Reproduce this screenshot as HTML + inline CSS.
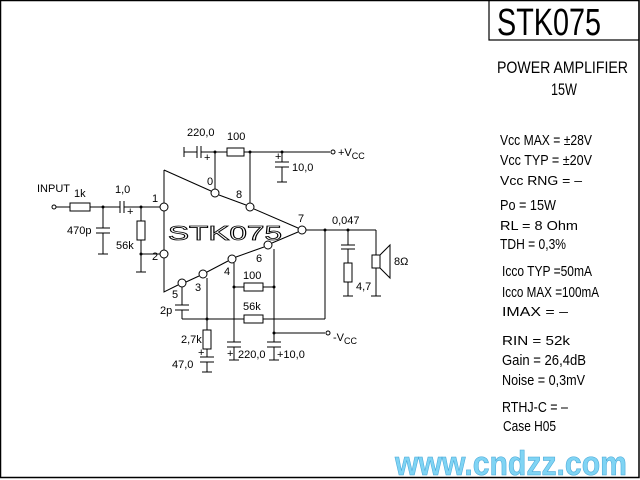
<!DOCTYPE html>
<html><head><style>
html,body{margin:0;padding:0;background:#fff;}
svg{display:block}
text{font-family:"Liberation Sans",sans-serif;fill:#000}
</style></head><body>
<svg width="640" height="480" viewBox="0 0 640 480" xmlns="http://www.w3.org/2000/svg">
<rect x="0.5" y="0.5" width="638.5" height="477" fill="none" stroke="#000" stroke-width="1.5"/>
<rect x="489" y="0" width="150" height="40" fill="none" stroke="#000" stroke-width="1.2"/>
<text x="497" y="35" font-size="38" textLength="104" lengthAdjust="spacingAndGlyphs">STK075</text>
<text x="497" y="73" font-size="17" textLength="131" lengthAdjust="spacingAndGlyphs">POWER AMPLIFIER</text>
<text x="551" y="95" font-size="17" textLength="26" lengthAdjust="spacingAndGlyphs">15W</text>
<g font-size="15">
<text x="500" y="145" textLength="92" lengthAdjust="spacingAndGlyphs">Vcc MAX = ±28V</text>
<text x="500" y="165" textLength="92" lengthAdjust="spacingAndGlyphs">Vcc TYP  = ±20V</text>
<text x="500" y="185" font-size="13" textLength="82" lengthAdjust="spacingAndGlyphs">Vcc RNG =   –</text>
<text x="500" y="210" textLength="56" lengthAdjust="spacingAndGlyphs">Po  = 15W</text>
<text x="500" y="230" font-size="13" textLength="78" lengthAdjust="spacingAndGlyphs">RL  = 8 Ohm</text>
<text x="500" y="249" textLength="66" lengthAdjust="spacingAndGlyphs">TDH = 0,3%</text>
<text x="502" y="276" textLength="90" lengthAdjust="spacingAndGlyphs">Icco TYP =50mA</text>
<text x="502" y="297" textLength="97" lengthAdjust="spacingAndGlyphs">Icco MAX =100mA</text>
<text x="502" y="316" font-size="13" textLength="66" lengthAdjust="spacingAndGlyphs">IMAX  =    –</text>
<text x="502" y="345" font-size="13" textLength="68" lengthAdjust="spacingAndGlyphs">RIN  = 52k</text>
<text x="502" y="365" textLength="84" lengthAdjust="spacingAndGlyphs">Gain  = 26,4dB</text>
<text x="502" y="385" textLength="83" lengthAdjust="spacingAndGlyphs">Noise = 0,3mV</text>
<text x="502" y="412" textLength="66" lengthAdjust="spacingAndGlyphs">RTHJ-C = –</text>
<text x="503" y="431" textLength="53" lengthAdjust="spacingAndGlyphs">Case H05</text>
</g>
<text x="395" y="475" font-size="34" font-weight="bold" style="fill:#7fd4f4;stroke:#4aa8d8;stroke-width:0.6" textLength="232" lengthAdjust="spacingAndGlyphs">www.cndzz.com</text>

<g stroke="#000" stroke-width="1" fill="none">
<polyline points="164,170 164,203"/><polyline points="164,211 164,250"/><polyline points="164,258 164,292 178,285"/>
<line x1="164" y1="170" x2="211" y2="191"/><line x1="219" y1="195" x2="246" y2="205"/><line x1="254" y1="209" x2="298" y2="228"/>
<line x1="298" y1="232" x2="272" y2="243"/><line x1="264" y1="247" x2="236" y2="257"/><line x1="228" y1="261" x2="207" y2="272"/><line x1="199" y1="276" x2="186" y2="282"/>
<g fill="#fff">
<circle cx="164" cy="207" r="4"/><circle cx="164" cy="254" r="4"/><circle cx="215" cy="193" r="4"/><circle cx="250" cy="207" r="4"/>
<circle cx="302" cy="230" r="4"/><circle cx="268" cy="245" r="4"/><circle cx="232" cy="259" r="4"/><circle cx="203" cy="274" r="4"/><circle cx="182" cy="283" r="4"/>
</g>
<line x1="184" y1="147" x2="184" y2="157"/><line x1="184" y1="152" x2="197" y2="152"/>
<line x1="197" y1="146" x2="197" y2="158"/><line x1="201" y1="146" x2="201" y2="158"/>
<line x1="201" y1="152" x2="227" y2="152"/><rect x="227" y="148" width="17" height="8"/>
<line x1="244" y1="152" x2="330" y2="152"/><circle cx="333" cy="152" r="2"/>
<line x1="215" y1="152" x2="215" y2="189"/><line x1="250" y1="152" x2="250" y2="203"/>
<line x1="282" y1="152" x2="282" y2="162"/><line x1="275" y1="162" x2="289" y2="162"/><line x1="275" y1="167" x2="289" y2="167"/><line x1="282" y1="167" x2="282" y2="182"/><line x1="277" y1="182" x2="287" y2="182"/>
<circle cx="54" cy="207" r="2"/><line x1="56" y1="207" x2="70" y2="207"/><rect x="70" y="203" width="20" height="8"/>
<line x1="90" y1="207" x2="120" y2="207"/><line x1="120" y1="201" x2="120" y2="213"/><line x1="124" y1="201" x2="124" y2="213"/>
<line x1="124" y1="207" x2="160" y2="207"/>
<line x1="103" y1="207" x2="103" y2="228"/><line x1="96" y1="228" x2="110" y2="228"/><line x1="96" y1="233" x2="110" y2="233"/><line x1="103" y1="233" x2="103" y2="254"/><line x1="98" y1="254" x2="108" y2="254"/>
<line x1="141" y1="207" x2="141" y2="221"/><rect x="137" y="221" width="8" height="19"/><line x1="141" y1="240" x2="141" y2="272"/><line x1="136" y1="272" x2="146" y2="272"/>
<line x1="141" y1="254" x2="160" y2="254"/>
<line x1="306" y1="230" x2="376" y2="230"/>
<line x1="325" y1="230" x2="325" y2="319"/>
<line x1="348" y1="230" x2="348" y2="245"/><line x1="341" y1="245" x2="355" y2="245"/><line x1="341" y1="249" x2="355" y2="249"/><line x1="348" y1="249" x2="348" y2="263"/><rect x="344" y="263" width="8" height="19"/><line x1="348" y1="282" x2="348" y2="296"/><line x1="343" y1="296" x2="353" y2="296"/>
<line x1="376" y1="230" x2="376" y2="255"/><rect x="372" y="255" width="8" height="13"/><polyline points="380,255 390,245 390,278 380,268"/><line x1="376" y1="268" x2="376" y2="296"/><line x1="371" y1="296" x2="381" y2="296"/>
<line x1="182" y1="287" x2="182" y2="305"/><line x1="175" y1="305" x2="189" y2="305"/><line x1="175" y1="310" x2="189" y2="310"/><line x1="182" y1="310" x2="182" y2="319"/>
<line x1="182" y1="319" x2="244" y2="319"/><rect x="244" y="315" width="19" height="8"/><line x1="263" y1="319" x2="325" y2="319"/>
<line x1="207" y1="278" x2="207" y2="330"/><rect x="203" y="330" width="8" height="19"/><line x1="207" y1="349" x2="207" y2="357"/><line x1="200" y1="357" x2="214" y2="357"/><line x1="200" y1="362" x2="214" y2="362"/><line x1="207" y1="362" x2="207" y2="372"/><line x1="202" y1="372" x2="212" y2="372"/>
<line x1="234" y1="263" x2="234" y2="342"/><line x1="227" y1="342" x2="241" y2="342"/><line x1="227" y1="347" x2="241" y2="347"/><line x1="234" y1="347" x2="234" y2="360"/><line x1="229" y1="360" x2="239" y2="360"/>
<line x1="274" y1="249" x2="274" y2="342"/><line x1="267" y1="342" x2="281" y2="342"/><line x1="267" y1="347" x2="281" y2="347"/><line x1="274" y1="347" x2="274" y2="360"/><line x1="269" y1="360" x2="279" y2="360"/>
<line x1="234" y1="287" x2="244" y2="287"/><rect x="244" y="283" width="19" height="8"/><line x1="263" y1="287" x2="274" y2="287"/>
<line x1="274" y1="333" x2="325" y2="333"/><circle cx="328" cy="333" r="2"/>
</g>
<g fill="#000">
<circle cx="215" cy="152" r="1.5"/><circle cx="250" cy="152" r="1.5"/><circle cx="282" cy="152" r="1.5"/><circle cx="103" cy="207" r="1.5"/><circle cx="141" cy="207" r="1.5"/><circle cx="141" cy="254" r="1.5"/>
<circle cx="325" cy="230" r="1.5"/><circle cx="348" cy="230" r="1.5"/><circle cx="207" cy="319" r="1.5"/><circle cx="234" cy="287" r="1.5"/><circle cx="274" cy="287" r="1.5"/><circle cx="274" cy="333" r="1.5"/>
</g>
<text x="168" y="240" font-size="20" stroke="#000" stroke-width="0.8" style="fill:none" textLength="114" lengthAdjust="spacingAndGlyphs">STK075</text>
<g font-size="11">
<text x="187" y="136">220,0</text><text x="227" y="140">100</text><text x="204" y="161">+</text>
<text x="338" y="156">+V<tspan font-size="9" dy="3">CC</tspan></text>
<text x="275" y="160">+</text><text x="292" y="171">10,0</text>
<text x="37" y="192">INPUT</text><text x="74" y="197">1k</text><text x="115" y="193">1,0</text><text x="127" y="215">+</text>
<text x="67" y="234">470p</text><text x="116" y="249">56k</text>
<text x="152" y="202">1</text><text x="152" y="260">2</text><text x="207" y="185">0</text><text x="236" y="198">8</text>
<text x="298" y="222">7</text><text x="256" y="262">6</text><text x="224" y="275">4</text><text x="195" y="291">3</text><text x="172" y="298">5</text>
<text x="243" y="279">100</text><text x="243" y="310">56k</text><text x="160" y="314">2p</text>
<text x="181" y="343">2,7k</text><text x="172" y="368">47,0</text><text x="198" y="356">+</text>
<text x="227" y="357">+</text><text x="238" y="358">220,0</text><text x="277" y="358">+10,0</text>
<text x="333" y="341">-V<tspan font-size="9" dy="3">CC</tspan></text>
<text x="332" y="224">0,047</text><text x="356" y="290">4,7</text><text x="394" y="265">8Ω</text>
</g>
</svg>
</body></html>
